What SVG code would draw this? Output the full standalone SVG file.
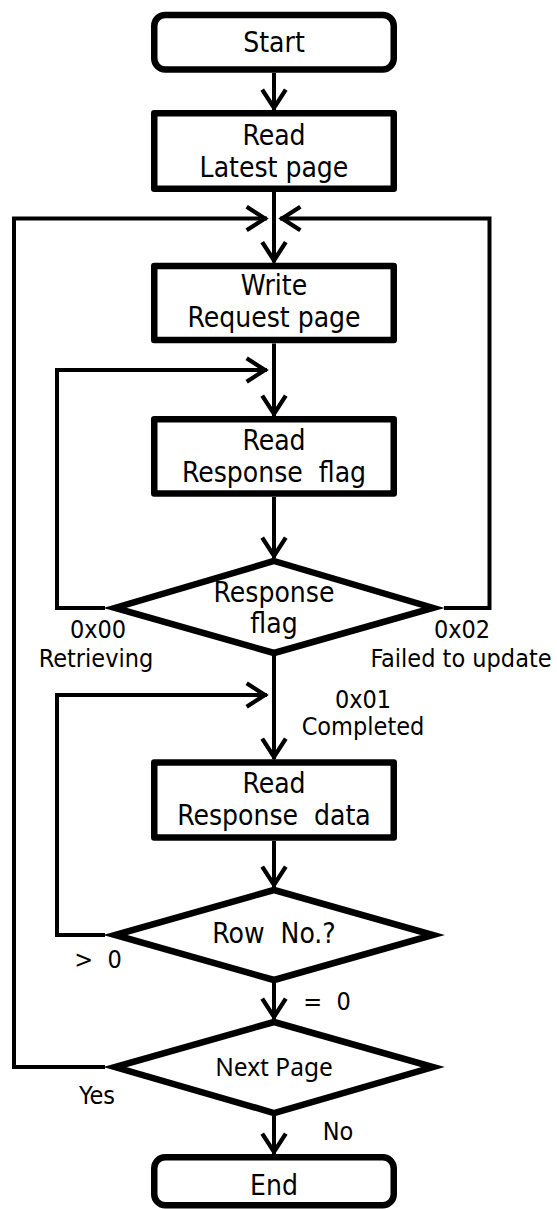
<svg xmlns="http://www.w3.org/2000/svg" width="557" height="1209" viewBox="0 0 557 1209">
<style>
.box{fill:#fff;stroke:#000;stroke-width:6.5;stroke-linejoin:round}
.dia{fill:#fff;stroke:#000;stroke-width:6.5;stroke-linejoin:miter;stroke-miterlimit:10}
.t{font-family:"DejaVu Sans Condensed","DejaVu Sans",sans-serif;font-size:28px;fill:#000;text-anchor:middle}
.np{font-family:"Noto Sans","Open Sans",sans-serif;font-size:24.5px;fill:#000;text-anchor:middle}
.lb{font-family:"DejaVu Sans Condensed","DejaVu Sans",sans-serif;font-size:25px;fill:#000;text-anchor:middle}
.c{fill:none;stroke:#000;stroke-width:4;marker-end:url(#arr)}
</style>
<defs>
<marker id="arr" markerUnits="userSpaceOnUse" markerWidth="30" markerHeight="30" refX="0" refY="0" viewBox="-20 -14 24 28" orient="auto" overflow="visible">
<path d="M-19 -11 L-2 0 L-19 11" fill="none" stroke="#000" stroke-width="4" stroke-linejoin="miter"/>
</marker>
</defs>
<g id="connectors">
<path class="c" d="M274 73 V110"/>
<path class="c" d="M274 192 V262.5"/>
<path class="c" d="M105 1067 H14 V218.5 H267"/>
<path class="c" d="M444 608 H489.5 V218.5 H280"/>
<path class="c" d="M274 343.5 V416"/>
<path class="c" d="M105 608 H57 V370 H267"/>
<path class="c" d="M274 497 V558"/>
<path class="c" d="M274 656 V759"/>
<path class="c" d="M105 935 H57 V695 H267"/>
<path class="c" d="M274 841 V887"/>
<path class="c" d="M274 983 V1019"/>
<path class="c" d="M274 1116 V1154"/>
</g>
<g id="start">
<rect class="box" x="154.25" y="14.9" width="239.5" height="54.6" rx="11"/>
<text class="t" x="274" y="52">Start</text>
</g>
<g id="read-latest">
<rect class="box" x="154.25" y="113.25" width="239.5" height="75.5"/>
<text class="t" x="274" y="145">Read</text>
<text class="t" x="274" y="177">Latest page</text>
</g>
<g id="write-request">
<rect class="box" x="154.25" y="265.9" width="239.5" height="74.2"/>
<text class="t" x="274" y="295">Write</text>
<text class="t" x="274" y="327">Request page</text>
</g>
<g id="read-flag">
<rect class="box" x="154.25" y="419.25" width="239.5" height="74.2"/>
<text class="t" x="274" y="450">Read</text>
<text class="t" x="274" y="482" xml:space="preserve">Response  flag</text>
</g>
<g id="flag-decision">
<polygon class="dia" points="274,561 433,608 274,653 115,608"/>
<text class="t" x="274" y="602">Response</text>
<text class="t" x="274" y="633">flag</text>
</g>
<g id="labels-flag">
<text class="lb" x="98" y="638">0x00</text>
<text class="lb" x="96" y="667">Retrieving</text>
<text class="lb" x="462" y="638">0x02</text>
<text class="lb" x="461" y="667">Failed to update</text>
<text class="lb" x="363" y="708">0x01</text>
<text class="lb" x="363" y="735">Completed</text>
</g>
<g id="read-data">
<rect class="box" x="154.25" y="762.5" width="239.5" height="75"/>
<text class="t" x="274" y="793">Read</text>
<text class="t" x="274" y="825" xml:space="preserve">Response  data</text>
</g>
<g id="row-decision">
<polygon class="dia" points="274,890 433,935 274,980 115,935"/>
<text class="t" x="274" y="943" xml:space="preserve">Row  No.?</text>
</g>
<g id="labels-row">
<text class="lb" x="98" y="968" xml:space="preserve">&gt;  0</text>
<text class="lb" x="327" y="1010" xml:space="preserve">=  0</text>
</g>
<g id="next-decision">
<polygon class="dia" points="274,1022 433,1067 274,1113 115,1067"/>
<text class="np" x="274" y="1076">Next Page</text>
</g>
<g id="labels-next">
<text class="lb" x="97" y="1104">Yes</text>
<text class="lb" x="338" y="1140">No</text>
</g>
<g id="end">
<rect class="box" x="154.25" y="1157.25" width="239.5" height="48" rx="11"/>
<text class="t" x="274" y="1195">End</text>
</g>
</svg>
